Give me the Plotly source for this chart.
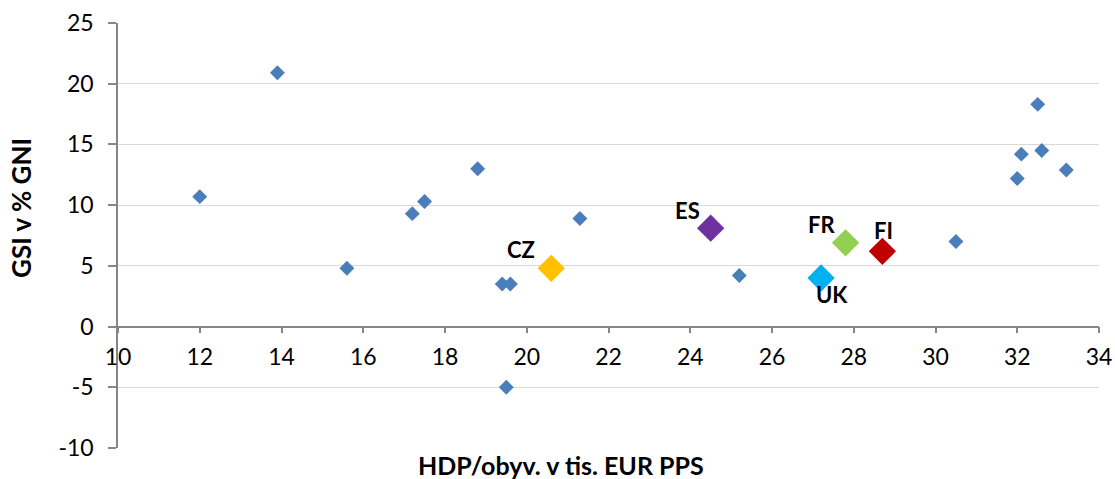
import plotly.graph_objects as go

# --- data ---
other_x = [12.0, 13.9, 15.6, 17.2, 17.5, 18.8, 19.4, 19.6, 19.5, 21.3, 25.2, 30.5, 32.0, 32.1, 32.5, 32.6, 33.2]
other_y = [10.7, 20.9, 4.8, 9.3, 10.3, 13.0, 3.5, 3.5, -5.0, 8.9, 4.2, 7.0, 12.2, 14.2, 18.3, 14.5, 12.9]

hl_names = ["CZ", "ES", "UK", "FR", "FI"]
hl_x = [20.6, 24.5, 27.2, 27.8, 28.7]
hl_y = [4.8, 8.1, 4.0, 6.9, 6.2]

x_ticks = [10, 12, 14, 16, 18, 20, 22, 24, 26, 28, 30, 32, 34]
y_ticks = [-10, -5, 0, 5, 10, 15, 20, 25]

x_title = "HDP/obyv. v tis. EUR PPS"
y_title = "GSI v % GNI"

# --- styles ---
hl_colors = ["#FFC000", "#7030A0", "#00B0F0", "#92D050", "#C00000"]
label_shift = {"CZ": (-30, 19), "ES": (-23, 18), "UK": (11, -16), "FR": (-24, 18), "FI": (1, 21)}
FONT = "Lato"

fig = go.Figure()
fig.add_trace(go.Scatter(
    x=other_x, y=other_y, mode="markers",
    marker=dict(symbol="diamond", size=11.5, color="#4A7EBB"),
    showlegend=False, hoverinfo="x+y"))
fig.add_trace(go.Scatter(
    x=hl_x, y=hl_y, mode="markers",
    marker=dict(symbol="diamond", size=21, color=hl_colors),
    text=hl_names, showlegend=False, hoverinfo="text+x+y"))

for n, xv, yv in zip(hl_names, hl_x, hl_y):
    dx, dy = label_shift[n]
    fig.add_annotation(x=xv, y=yv, text="<b>%s</b>" % n, showarrow=False,
                       xshift=dx, yshift=dy, xanchor="center", yanchor="middle",
                       font=dict(family=FONT, size=22, color="#000000"))

fig.add_annotation(x=(561 - 118) / 981, y=0, xref="paper", yref="paper",
                   text="<b>%s</b>" % x_title, showarrow=False,
                   xanchor="center", yanchor="middle", yshift=-17,
                   font=dict(family=FONT, size=25, color="#000000"))
fig.add_annotation(x=0, y=(448 - 208) / 425, xref="paper", yref="paper",
                   text="<b>%s</b>" % y_title, showarrow=False, textangle=-90,
                   xanchor="center", yanchor="middle", xshift=-97,
                   font=dict(family=FONT, size=26, color="#000000"))

fig.update_layout(
    width=1115, height=479,
    margin=dict(l=118, r=16, t=23, b=31, autoexpand=False),
    paper_bgcolor="white", plot_bgcolor="white",
    font=dict(family=FONT, size=23, color="#000000"),
    xaxis=dict(
        range=[10, 34], tickvals=x_ticks, ticktext=[str(v) for v in x_ticks],
        showgrid=False, zeroline=False, automargin=False,
        showline=True, linecolor="#868686", linewidth=1.5,
        ticks="outside", ticklen=6, tickcolor="#868686", tickwidth=1.5,
        anchor="free", position=10 / 35, ticklabelstandoff=4,
        tickfont=dict(family=FONT, size=23, color="#000000"),
    ),
    yaxis=dict(
        range=[-10, 25], tickvals=y_ticks, ticktext=[str(v) for v in y_ticks],
        showgrid=True, gridcolor="#D9D9D9", gridwidth=1, zeroline=False,
        showline=True, linecolor="#868686", linewidth=1.5, automargin=False,
        ticks="outside", ticklen=8, tickcolor="#868686", tickwidth=1.5,
        ticklabelstandoff=10,
        tickfont=dict(family=FONT, size=23, color="#000000"),
    ),
)

fig.write_html("out.html")
